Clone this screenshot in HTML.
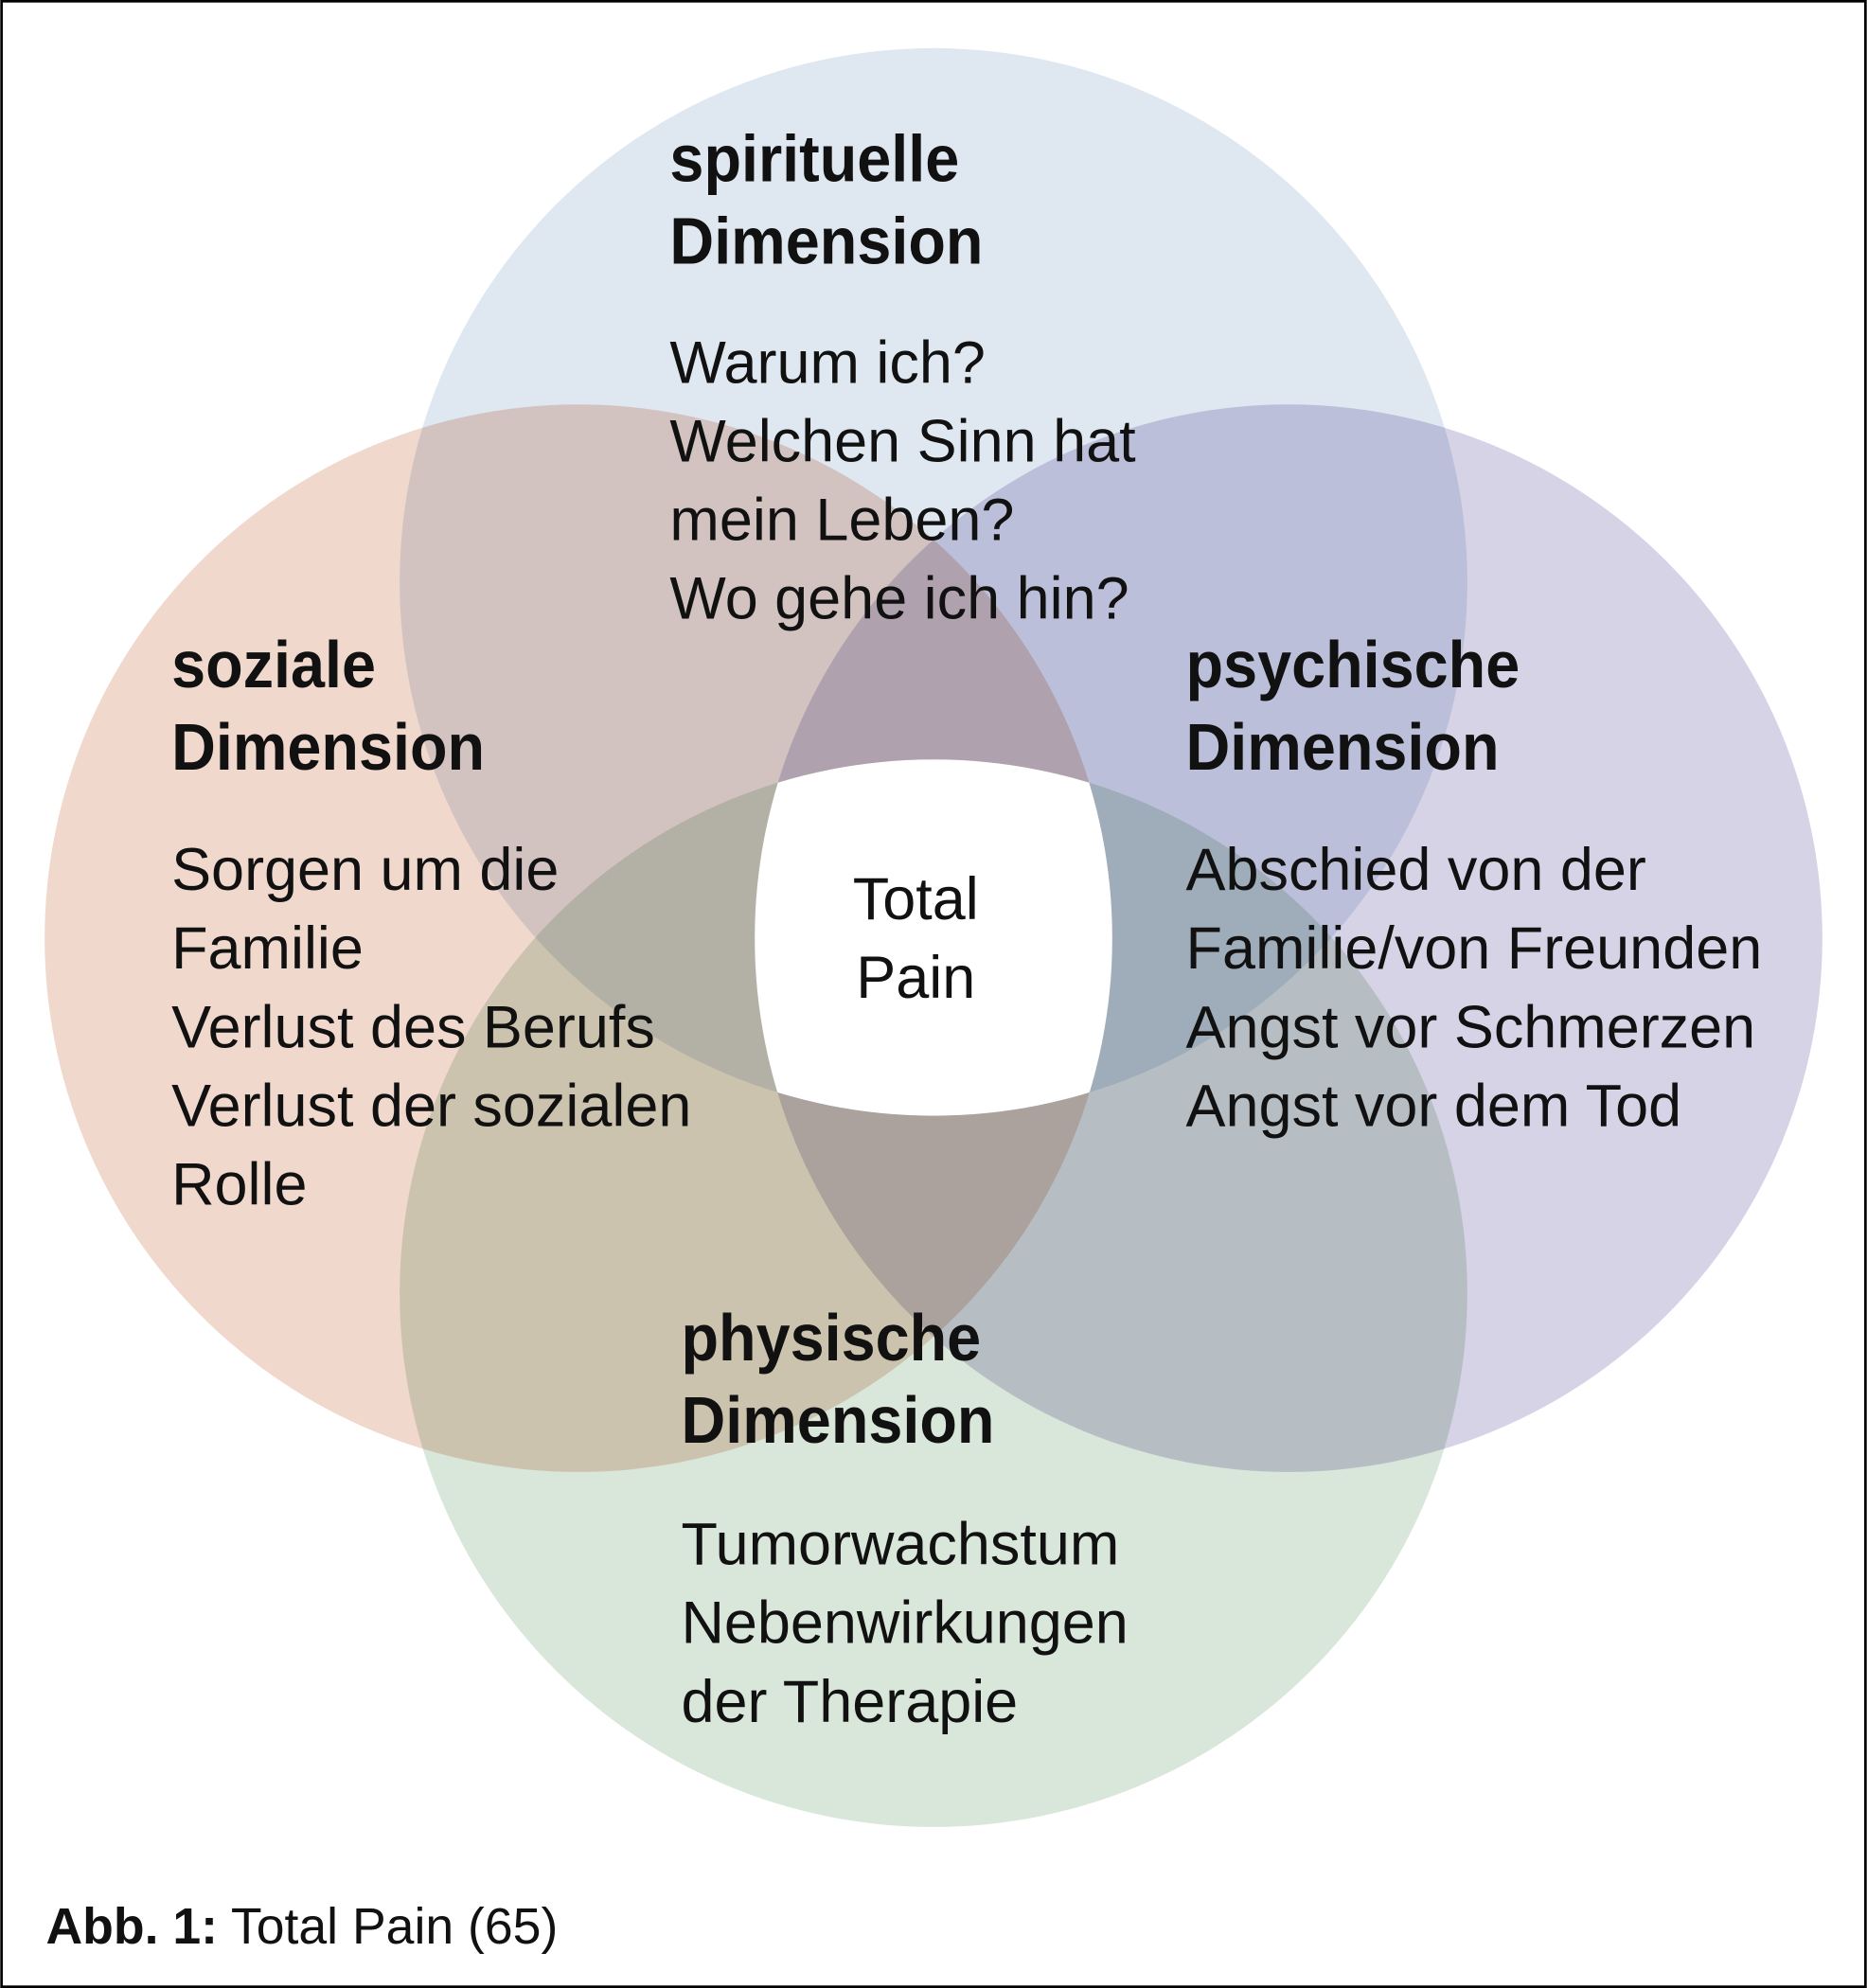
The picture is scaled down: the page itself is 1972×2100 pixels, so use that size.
<!DOCTYPE html>
<html><head><meta charset="utf-8"><style>
html,body{margin:0;padding:0;background:#fff}
svg{display:block}
text{font-family:"Liberation Sans",sans-serif;fill:#111}
.b{font-weight:bold;font-size:52px}
.r{font-size:47px}
</style></head><body>
<svg width="1972" height="2100" viewBox="0 0 1472 1568" xmlns="http://www.w3.org/2000/svg">
<defs>
<clipPath id="cT"><circle cx="736" cy="459" r="421"/></clipPath>
<clipPath id="cL"><circle cx="456" cy="740" r="421"/></clipPath>
<clipPath id="cR"><circle cx="1016" cy="740" r="421"/></clipPath>
</defs>
<rect x="0" y="0" width="1472" height="1568" fill="#fff"/>
<g style="isolation:isolate">
<circle cx="736" cy="459" r="421" fill="#dfe7f1" style="mix-blend-mode:multiply"/>
<circle cx="456" cy="740" r="421" fill="#f0d8cc" style="mix-blend-mode:multiply"/>
<circle cx="1016" cy="740" r="421" fill="#d6d3e6" style="mix-blend-mode:multiply"/>
<circle cx="736" cy="1020" r="421" fill="#d9e6da" style="mix-blend-mode:multiply"/>
</g>
<g clip-path="url(#cT)"><g clip-path="url(#cL)"><g clip-path="url(#cR)">
<circle cx="736" cy="1020" r="421" fill="#fff"/>
</g></g></g>
<rect x="1" y="1" width="1470" height="1566" fill="none" stroke="#000" stroke-width="2"/>

<g transform="translate(528,0) scale(0.93,1)"><text class="b" x="0" y="143">spirituelle</text><text class="b" x="0" y="208">Dimension</text></g>
<text class="r" x="528" y="302">Warum ich?</text>
<text class="r" x="528" y="364">Welchen Sinn hat</text>
<text class="r" x="528" y="426">mein Leben?</text>
<text class="r" x="528" y="488">Wo gehe ich hin?</text>

<g transform="translate(135,0) scale(0.93,1)"><text class="b" x="0" y="542">soziale</text><text class="b" x="0" y="607">Dimension</text></g>
<text class="r" x="135" y="702">Sorgen um die</text>
<text class="r" x="135" y="764">Familie</text>
<text class="r" x="135" y="826">Verlust des Berufs</text>
<text class="r" x="135" y="888">Verlust der sozialen</text>
<text class="r" x="135" y="950">Rolle</text>

<g transform="translate(935,0) scale(0.93,1)"><text class="b" x="0" y="542">psychische</text><text class="b" x="0" y="607">Dimension</text></g>
<text class="r" x="935" y="702">Abschied von der</text>
<text class="r" x="935" y="764">Familie/von Freunden</text>
<text class="r" x="935" y="826">Angst vor Schmerzen</text>
<text class="r" x="935" y="888">Angst vor dem Tod</text>

<g transform="translate(537,0) scale(0.93,1)"><text class="b" x="0" y="1073">physische</text><text class="b" x="0" y="1138">Dimension</text></g>
<text class="r" x="537" y="1234">Tumorwachstum</text>
<text class="r" x="537" y="1296">Nebenwirkungen</text>
<text class="r" x="537" y="1358">der Therapie</text>

<text class="r" x="722" y="725" text-anchor="middle">Total</text>
<text class="r" x="722" y="787" text-anchor="middle">Pain</text>

<text x="36" y="1533" style="font-size:40px"><tspan font-weight="bold">Abb. 1:</tspan> Total Pain (65)</text>
</svg>
</body></html>
